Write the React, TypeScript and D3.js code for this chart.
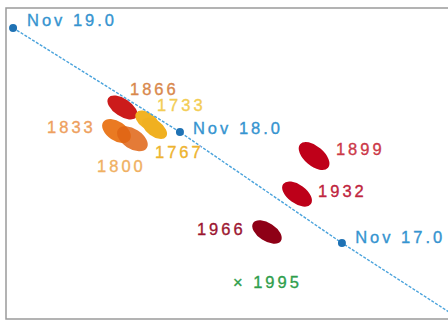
import React from "react";
import * as d3 from "d3";

// Date nodes along the radiant-drift line (chart units)
const nodeLabels = ["Nov 19.0", "Nov 18.0", "Nov 17.0"];
const nodeX = [0.32, 7.87, 15.2];
const nodeY = [0.89, 5.55, 10.51];
const lineEnd = [20.05, 13.6];

// Storm years (blobs)
const years = ["1866", "1733", "1767", "1833", "1800", "1899", "1932", "1966"];
const blobX = [5.27, 6.4, 6.72, 5.0, 5.72, 13.94, 13.17, 11.81];
const blobY = [4.45, 5.05, 5.38, 5.5, 5.85, 6.62, 8.32, 10.02];
const blobLen = [1.55, 1.25, 1.3, 1.45, 1.55, 1.65, 1.55, 1.5];
const blobWid = [0.8, 0.72, 0.72, 0.88, 0.9, 0.9, 0.85, 0.82];
const blobAngle = [34, 36, 36, 34, 33, 40, 36, 33];

// Single marker
const markYear = "1995";

// Label anchors (chart units)
const yearLabelX = [5.61, 6.83, 6.74, 1.86, 4.12, 14.93, 14.12, 8.64];
const yearLabelY = [3.89, 4.61, 6.71, 5.59, 7.33, 6.58, 8.45, 10.15];
const nodeLabelX = [0.95, 8.46, 15.8];
const nodeLabelY = [0.81, 5.64, 10.51];
const markLabelX = 10.27;
const markLabelY = 12.52;

const blobColors = ["#cc1b1b", "#f2b323", "#f0b020", "#ea7a22", "#df6414", "#bf0019", "#bd0019", "#8e0016"];
const labelColors = ["#d9884c", "#f3cd55", "#eeb32e", "#eea05e", "#f0b062", "#cc3848", "#c0243e", "#9c1530"];

const W = 448;
const H = 321;

export default function App() {
  const x = d3.scaleLinear().domain([0, 20]).range([6, 448]);
  const y = d3.scaleLinear().domain([0, 14]).range([8, 321]);

  const linePts: [number, number][] = [
    [nodeX[0], nodeY[0]],
    [nodeX[1], nodeY[1]],
    [nodeX[2], nodeY[2]],
    [lineEnd[0], lineEnd[1]],
  ];
  const lineGen = d3
    .line<[number, number]>()
    .x((d) => x(d[0]))
    .y((d) => y(d[1]));

  const pxPerUnit = x(1) - x(0);
  const font = "'Liberation Sans', Arial, sans-serif";
  const textProps = {
    fontFamily: font,
    fontSize: 16.5,
    letterSpacing: 3,
    strokeWidth: 0.35,
  };

  return (
    <svg
      width={W}
      height={H}
      style={{ position: "fixed", left: 0, top: 0, background: "#fff" }}
    >
      <rect x={0} y={0} width={W} height={H} fill="#fff" />
      {/* frame */}
      <rect x={6} y={8} width={470} height={311} fill="none" stroke="#9a9a9a" strokeWidth={1.5} />

      {/* blobs */}
      {years.map((yr, i) => (
        <ellipse
          key={yr}
          cx={x(blobX[i])}
          cy={y(blobY[i])}
          rx={(blobLen[i] * pxPerUnit) / 2}
          ry={(blobWid[i] * pxPerUnit) / 2}
          fill={blobColors[i]}
          opacity={i === 4 ? 0.85 : 1}
          transform={`rotate(${blobAngle[i]} ${x(blobX[i])} ${y(blobY[i])})`}
        />
      ))}

      {/* drift line */}
      <path
        d={lineGen(linePts) || ""}
        fill="none"
        stroke="#4aa3dc"
        strokeWidth={1.4}
        strokeDasharray="3 1.5"
      />
      {nodeLabels.map((lab, i) => (
        <circle key={lab} cx={x(nodeX[i])} cy={y(nodeY[i])} r={4} fill="#1f72b4" />
      ))}
      {nodeLabels.map((lab, i) => (
        <text
          key={lab + "t"}
          x={x(nodeLabelX[i])}
          y={y(nodeLabelY[i])}
          fill="#3594d0"
          stroke="#3594d0"
          {...textProps}
        >
          {lab}
        </text>
      ))}

      {/* year labels */}
      {years.map((yr, i) => (
        <text
          key={yr + "l"}
          x={x(yearLabelX[i])}
          y={y(yearLabelY[i])}
          fill={labelColors[i]}
          stroke={labelColors[i]}
          {...textProps}
        >
          {yr}
        </text>
      ))}

      {/* 1995 marker */}
      <text
        x={x(markLabelX)}
        y={y(markLabelY)}
        fill="#2f9e4c"
        stroke="#2f9e4c"
        {...textProps}
      >
        {"\u00d7 " + markYear}
      </text>
    </svg>
  );
}
